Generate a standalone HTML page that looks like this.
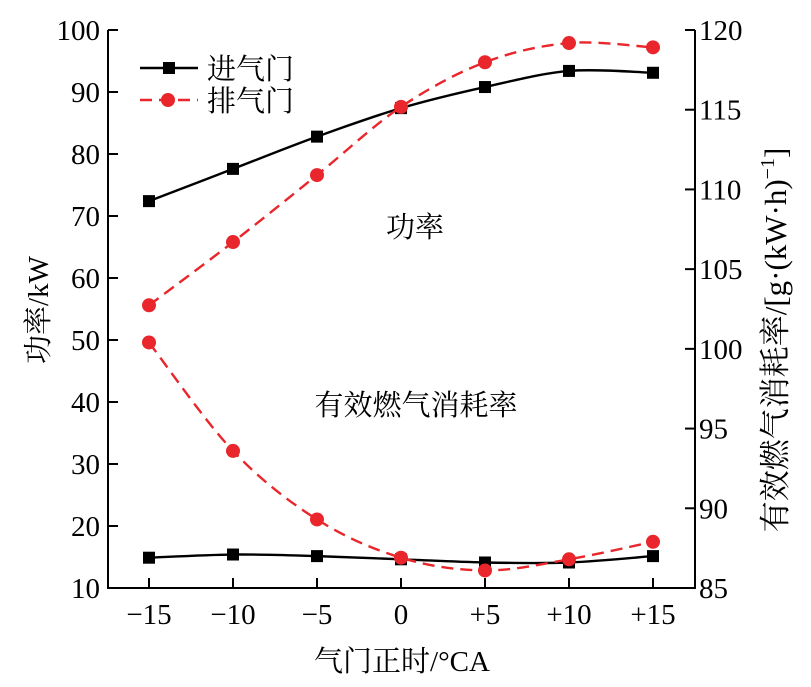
<!DOCTYPE html>
<html><head><meta charset="utf-8"><style>
html,body{margin:0;padding:0;background:#fff}
svg{display:block;font-family:"Liberation Serif","Noto Serif CJK SC","Noto Sans CJK SC",serif}
</style></head><body>
<svg id="c" width="811" height="687" viewBox="0 0 811 687"></svg>
<script>
const categories=["−15","−10","−5","0","+5","+10","+15"];
const xValues=[-15,-10,-5,0,5,10,15];
const powerIntake=[72.4,77.6,82.8,87.4,90.8,93.4,93.1];
const powerExhaust=[55.6,65.8,76.6,87.6,94.8,97.9,97.2];
const bsfcIntake=[86.9,87.1,87.0,86.8,86.6,86.6,87.0];
const bsfcExhaust=[100.4,93.6,89.3,86.9,86.1,86.8,87.9];
const leftTicks=[10,20,30,40,50,60,70,80,90,100];
const rightTicks=[85,90,95,100,105,110,115,120];

const NS="http://www.w3.org/2000/svg";
const svg=document.getElementById('c');
const L=108,R=695,T=30,B=588;
const FS=29;
const xs=v=>149+(v+15)/30*(653-149);
const yl=v=>B-(v-10)/90*(B-T);
const yr=v=>B-(v-85)/35*(B-T);
function el(tag,attrs,parent){const e=document.createElementNS(NS,tag);for(const k in attrs)e.setAttribute(k,attrs[k]);(parent||svg).appendChild(e);return e;}
function txt(s,attrs){const e=el('text',attrs);e.textContent=s;return e;}

const ax=el('path',{d:`M${L},${T}V${B}H${R}V${T}`,fill:'none',stroke:'#000','stroke-width':2});


leftTicks.forEach(v=>{
  const t=el('line',{x1:L,x2:L+10,y1:yl(v),y2:yl(v),stroke:'#000','stroke-width':2});
  
  
  const l=txt(String(v),{x:L-8,y:yl(v)+10,'text-anchor':'end','font-size':FS});
  
  
});
rightTicks.forEach(v=>{
  const t=el('line',{x1:R-10,x2:R,y1:yr(v),y2:yr(v),stroke:'#000','stroke-width':2});
  
  
  const l=txt(String(v),{x:R+4,y:yr(v)+10,'text-anchor':'start','font-size':FS});
  
  
});
xValues.forEach((v,i)=>{
  const t=el('line',{x1:xs(v),x2:xs(v),y1:B,y2:B-10,stroke:'#000','stroke-width':2});
  
  
  const l=txt(categories[i],{x:xs(v),y:B+36,'text-anchor':'middle','font-size':FS});
  
  
});
const xt=txt('气门正时/°CA',{x:402,y:671,'text-anchor':'middle','font-size':FS});


const ylt=txt('功率/kW',{x:0,y:0,'text-anchor':'middle','font-size':FS,transform:'translate(48,310) rotate(-90)'});


const yrt=el('text',{x:0,y:0,'text-anchor':'middle','font-size':31,transform:'translate(786,340) rotate(-90)'});


yrt.appendChild(document.createTextNode('有效燃气消耗率/[g·(kW·h)'));
const sup=el('tspan',{dy:-12,'font-size':20},yrt);sup.textContent='−1';
const cl=el('tspan',{dy:12},yrt);cl.textContent=']';
const a1=txt('功率',{x:415,y:237,'text-anchor':'middle','font-size':FS});


const a2=txt('有效燃气消耗率',{x:416,y:415,'text-anchor':'middle','font-size':FS});



function spline(pts){
  let d=`M${pts[0][0]},${pts[0][1]}`;
  for(let i=0;i<pts.length-1;i++){
    const p0=pts[i-1]||pts[i],p1=pts[i],p2=pts[i+1],p3=pts[i+2]||p2;
    const c1=[p1[0]+(p2[0]-p0[0])/6,p1[1]+(p2[1]-p0[1])/6];
    const c2=[p2[0]-(p3[0]-p1[0])/6,p2[1]-(p3[1]-p1[1])/6];
    d+=`C${c1[0]},${c1[1]} ${c2[0]},${c2[1]} ${p2[0]},${p2[1]}`;
  }
  return d;
}
function series(vals,yf,kind,name){
  const pts=vals.map((v,i)=>[xs(xValues[i]),yf(v)]);
  const red=kind==='exhaust';
  const p=el('path',{d:spline(pts),fill:'none',stroke:red?'#e8262b':'#000','stroke-width':2.4,'stroke-dasharray':red?'12,7':'none'});
  
  
  pts.forEach(q=>{
    let m;
    if(red) m=el('circle',{cx:q[0],cy:q[1],r:7,fill:'#e8262b'});
    else m=el('rect',{x:q[0]-6,y:q[1]-6,width:12,height:12,fill:'#000'});
    
    
  });
}
series(powerIntake,yl,'intake','power-intake');
series(powerExhaust,yl,'exhaust','power-exhaust');
series(bsfcIntake,yr,'intake','bsfc-intake');
series(bsfcExhaust,yr,'exhaust','bsfc-exhaust');

const g=el('g',{});


el('line',{x1:140,x2:198,y1:68,y2:68,stroke:'#000','stroke-width':2.4},g);
el('rect',{x:163,y:62,width:12,height:12,fill:'#000'},g);
const t1=txt('进气门',{x:207,y:79,'font-size':FS});g.appendChild(t1);


el('line',{x1:140,x2:198,y1:100,y2:100,stroke:'#e8262b','stroke-width':2.4,'stroke-dasharray':'12,7'},g);
el('circle',{cx:168,cy:100,r:7,fill:'#e8262b'},g);
const t2=txt('排气门',{x:207,y:111,'font-size':FS});g.appendChild(t2);


</script>
</body></html>
